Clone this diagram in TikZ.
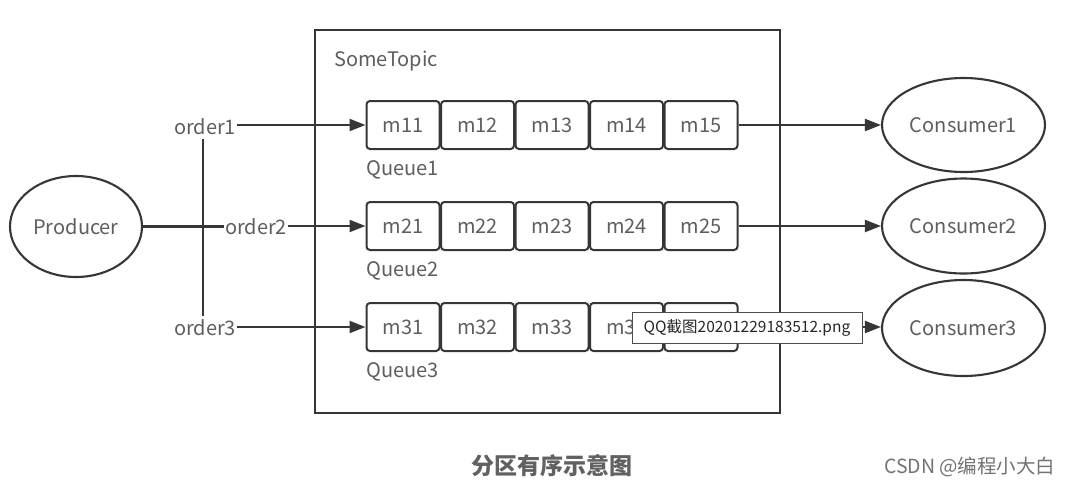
\documentclass[tikz,border=0pt]{standalone}
\usepackage{fontspec}
\setmainfont{Noto Sans CJK SC}
\usetikzlibrary{arrows.meta,shapes.geometric}
\definecolor{txt}{HTML}{5E5E5E}
\definecolor{ln}{HTML}{363636}
\begin{document}
\begin{tikzpicture}[x=1pt,y=-1pt,
  cell/.style={draw=ln, line width=2pt, rounded corners=3.5pt, minimum width=73pt, minimum height=48pt, inner sep=0pt, text=txt, font=\fontsize{20}{20}\selectfont},
  ell/.style={ellipse, draw=ln, line width=2.1pt, inner sep=0pt, text=txt, font=\fontsize{20}{20}\selectfont},
  lbl/.style={text=txt, font=\fontsize{20}{20}\selectfont, inner sep=1pt},
  arr/.style={draw=ln, line width=2.1pt, -{Triangle[length=16pt,width=12pt]}},
  lin/.style={draw=ln, line width=2.1pt}
]
\useasboundingbox (0,0) rectangle (1069,488);
\fill[white] (0,0) rectangle (1069,488);

% topic box
\node[draw=ln, line width=2.1pt, minimum width=465pt, minimum height=383pt, inner sep=0pt] (topic) at (547.5,221.5) {};
\node[lbl, anchor=west] (st) at (333,61) {SomeTopic};

% queues
\foreach \r/\y in {1/125,2/226,3/327}{
  \foreach \c/\x in {1/403,2/477.5,3/552,4/626.5,5/701}{
    \node[cell] (m\r\c) at (\x,\y) {m\r\c};
  }
  \node[lbl, anchor=west] (q\r) at (365,\y+45) {Queue\r};
}

% producer
\node[ell, minimum width=132pt, minimum height=101pt] (prod) at (76,226.5) {Producer};
\node[lbl] (o1) at (205,127) {order1};
\node[lbl] (o2) at (256,227) {order2};
\node[lbl] (o3) at (205,328) {order3};
\draw[lin] (prod.east) -- (prod.east -| o2.west);
\draw[lin] ([shift={(-2,3)}]o1.south) -- ([shift={(-2,-3)}]o3.north);
\draw[arr] (o1.east |- m11.west) -- (m11.west);
\draw[arr] (o2.east |- m21.west) -- (m21.west);
\draw[arr] (o3.east |- m31.west) -- (m31.west);

% consumers
\node[ell, minimum width=163pt, minimum height=94pt] (c1) at (963.5,125) {Consumer1};
\node[ell, minimum width=163pt, minimum height=95pt] (c2) at (963.5,226) {Consumer2};
\node[ell, minimum width=163pt, minimum height=96pt] (c3) at (963.5,328) {Consumer3};
\draw[arr] (m15.east) -- (c1.west);
\draw[arr] (m25.east) -- (c2.west);
\draw[arr] (m35.east) -- (m35.east -| c3.west);

% tooltip
\node[draw=black!70, fill=white, line width=0.9pt, minimum width=230pt, minimum height=31pt, inner sep=0pt, text=black!85, font=\fontsize{15.5}{15.5}\selectfont] (tip) at (747,327.5) {QQ截图20201229183512.png};

% captions
\node[text=black!62, font=\fontsize{23}{23}\selectfont\bfseries] (cap) at (552,466) {分区有序示意图};
\node[text=black!55, font=\fontsize{19.5}{19.5}\selectfont, anchor=east] (wm) at (1059,467) {CSDN @编程小大白};
\end{tikzpicture}
\end{document}
